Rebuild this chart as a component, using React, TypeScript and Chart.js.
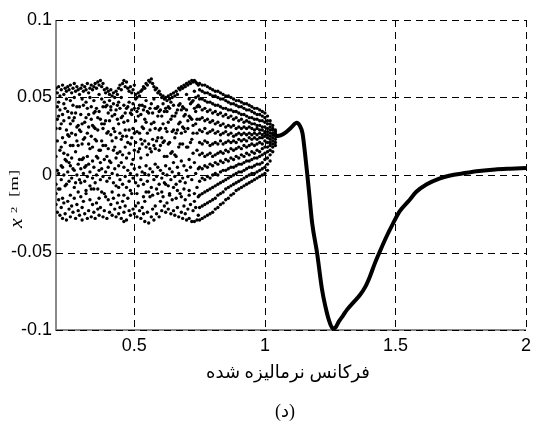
import React, { useEffect, useRef } from 'react';
import { Chart, registerables } from 'chart.js';

Chart.register(...registerables);

const xTickValues = [0.5, 1, 1.5, 2];
const xTickLabels = ['0.5', '1', '1.5', '2'];
const yTickValues = [-0.1, -0.05, 0, 0.05, 0.1];
const yTickLabels = ['-0.1', '-0.05', '0', '0.05', '0.1'];
const xTitle = 'فرکانس نرمالیزه شده';
const caption = '(د)';

// Chaotic region (irregular), frequencies and x2 samples in mm
const chaosFreqsA = [
  0.200, 0.205, 0.210, 0.215, 0.220, 0.225, 0.230, 0.235, 0.240, 0.245,
  0.250, 0.255, 0.260, 0.265, 0.270, 0.275, 0.280, 0.285, 0.290, 0.295,
  0.300, 0.305, 0.310, 0.315, 0.320, 0.325, 0.330, 0.335, 0.340, 0.345,
  0.350, 0.355, 0.360, 0.365, 0.370, 0.375, 0.380, 0.385, 0.390, 0.395,
  0.400, 0.405, 0.410, 0.415, 0.420, 0.425, 0.430, 0.435, 0.440, 0.445,
  0.450, 0.455, 0.460, 0.465, 0.470, 0.475, 0.480, 0.485, 0.490, 0.495,
  0.500, 0.505, 0.510, 0.515, 0.520, 0.525, 0.530, 0.535, 0.540, 0.545,
  0.550, 0.555, 0.560, 0.565, 0.570, 0.575, 0.580, 0.585, 0.590, 0.595,
  0.600, 0.605, 0.610, 0.615, 0.620, 0.625, 0.630, 0.635, 0.640, 0.645,
  0.650, 0.655, 0.660, 0.665, 0.670, 0.675, 0.680, 0.685, 0.690, 0.695,
  0.700, 0.705, 0.710, 0.715, 0.720, 0.725, 0.730, 0.735, 0.740, 0.745,
];
const chaosValuesAMm = [
  [56, 12, -6, -19], [53, 36, 3, -24], [57, 47, 1, -16], [51, 30, -9, -26], [55, 18, -3, -21],
  [58, 39, 5, -28], [52, 46, 14, -18], [56, 21, -7, -25], [54, 49, 9, -29], [57, 26, 2, -17],
  [55, 37, -4, -22], [58, 48, 6, -13, -27], [53, 11, -2, -20], [56, 35, 19, -24], [59, 50, 3, -15],
  [54, 40, -5, -28], [57, 22, 0, -19], [55, 32, 7, -23], [52, 44, -3, -26], [56, 28, 4, -14],
  [58, 49, 10, -21, -29], [54, 23, 1, -17], [57, 34, -4, -25], [55, 47, 6, -12], [59, 12, -1, -28],
  [53, 39, 20, -23], [56, 50, 2, -16], [58, 36, -9, -27], [55, 18, -2, -19], [57, 48, 31, 5, -24],
  [59, 41, -5, -28], [56, 22, 0, -18], [60, 37, 11, -22], [58, 52, 3, -15, -26], [61, 16, -3, -21],
  [57, 49, 33, -11], [59, 19, -1, -27], [55, 47, 10, -23], [53, 35, 2, -14], [56, 45, -4, -28],
  [54, 28, 5, -16], [52, 48, -2, -24], [55, 42, 8, -19], [51, 22, 1, -26], [53, 46, -5, -15],
  [50, 39, 4, -22], [54, 11, -7, -27], [52, 36, 0, -18], [56, 47, 6, -13, -25], [58, 15, -3, -21],
  [55, 50, 23, -28], [59, 38, -6, -17], [61, 45, 5, -24, -30], [57, 18, -1, -20], [60, 43, -8, -29],
  [56, 21, 3, -15], [54, 47, -4, -23], [57, 40, 1, -26], [53, 24, 7, -12], [55, 46, -2, -22],
  [58, 27, 4, -25], [52, 49, -5, -20], [50, 41, 0, -27], [53, 15, -7, -18], [51, 45, 5, -23],
  [54, 39, -3, -28], [55, 20, 2, -21], [57, 42, -6, -25], [56, 36, 1, -17, -30], [59, 48, 6, -11],
  [58, 13, -4, -24], [61, 40, 0, -31], [60, 29, 4, -14], [62, 46, -8, -27], [59, 23, 2, -22],
  [57, 49, -3, -29], [55, 30, 7, -20], [56, 43, -1, -25], [53, 24, 5, -12], [54, 41, -6, -27],
  [52, 19, 3, -17], [50, 38, -2, -23], [51, 46, 1, -14], [49, 22, -5, -20], [50, 43, 6, -24],
  [48, 28, 0, -18], [51, 44, -7, -22], [49, 21, 4, -13], [52, 47, -3, -25], [50, 15, 2, -16],
  [53, 45, 8, -23], [51, 38, -1, -26], [54, 12, -6, -15], [52, 42, 5, -21], [56, 33, 1, -27],
  [55, 46, -4, -12], [57, 27, 9, -24], [56, 44, -2, -28], [58, 30, 6, -9, -20], [57, 39, -5, -25],
  [59, 52, 3, -29], [58, 18, -1, -22], [60, 49, 10, -13, -28], [59, 37, 5, -19], [61, 47, -3, -30],
  [60, 32, 14, -23], [61, 54, 8, -17, -30], [60, 41, 1, -21], [59, 27, 16, -8, -29], [58, 45, 4, -26],
];
// extra interior samples of the same columns
const chaosExtraAMm = [
  [30, -12], [22, 44], [38, -9], [16, 42], [33, 6],
  [24, -15], [35, 0], [43, 10], [29, -6], [41, 13],
  [25, 8], [19, 33], [40, 27], [45, 4], [37, -8],
  [26, 15], [44, 31], [19, -11], [29, 10], [39, -5],
  [33, 20], [45, 11], [24, 5], [37, -10], [43, 27],
  [31, 7], [17, -7], [25, 44], [32, 9], [40, -9],
  [23, 30], [43, 12], [29, -9], [41, 16], [36, 8],
  [22, 4], [44, 30], [33, -12], [44, 19], [27, 12],
  [40, 17], [35, 9], [26, 44], [38, -11], [30, 16],
  [18, 28], [42, 24], [45, 14], [33, -8], [43, 27],
  [37, 8], [25, 13], [34, -13], [40, 29], [25, 11],
  [44, 35], [29, 14], [20, -10], [42, 39], [30, 10],
  [43, 16], [35, 21], [28, -12], [38, 43], [27, 17],
  [23, 11], [45, 31], [30, -14], [22, 44], [34, 18],
  [41, 27], [20, -11], [43, 17], [33, 15], [40, -13],
  [34, 19], [43, 17], [22, -9], [38, 44], [29, 16],
  [42, 30], [24, -11], [33, 21], [41, 12], [30, -6],
  [41, 12], [34, 20], [43, -12], [36, 14], [38, 28],
  [29, -8], [24, 13], [40, 27], [29, -10], [45, 18],
  [34, 20], [42, -14], [31, 20], [43, 38], [28, -16],
  [42, 18], [35, 30], [38, -10], [46, 21], [36, 23],
  [48, 27], [43, -12], [50, 33], [44, 36], [51, -14],
];

// Converging bands just before the jump
const chaosFreqsB = [
  0.75, 0.76, 0.77, 0.78, 0.79, 0.80, 0.81, 0.82, 0.83, 0.84,
  0.85, 0.86, 0.87, 0.88, 0.89, 0.90, 0.91, 0.92, 0.93, 0.94,
  0.95, 0.96, 0.97, 0.98, 0.99, 1.00, 1.01, 1.02, 1.03, 1.04,
];
const chaosValuesBMm = [
  [59, 55, 49, 44, 36, 29, 21, 13, 5, -4, -13, -21, -29],
  [58, 54, 49, 42, 37, 28, 20, 14, 4, -2, -12, -20, -28],
  [58, 53, 48, 43, 35, 30, 22, 12, 6, -3, -11, -19, -27],
  [57, 53, 47, 41, 36, 27, 21, 13, 5, -1, -10, -18, -26],
  [56, 52, 47, 42, 34, 28, 19, 14, 7, -2, -9, -17, -25],
  [55, 51, 46, 40, 35, 29, 20, 12, 6, 0, -8, -16, -24],
  [54, 51, 45, 41, 33, 27, 21, 13, 8, 1, -7, -15, -22],
  [54, 50, 45, 39, 34, 28, 20, 14, 7, 0, -6, -13, -21],
  [53, 49, 44, 40, 32, 26, 22, 15, 9, 2, -5, -12, -19],
  [52, 49, 43, 38, 33, 27, 20, 14, 8, 3, -4, -11, -18],
  [51, 48, 43, 39, 31, 28, 21, 16, 10, 3, -3, -9, -16],
  [51, 47, 42, 37, 32, 26, 22, 15, 9, 4, -2, -8, -15],
  [50, 46, 42, 38, 31, 27, 21, 17, 11, 5, -1, -7, -13],
  [49, 46, 41, 36, 32, 25, 22, 16, 10, 5, 0, -6, -12],
  [48, 45, 41, 37, 30, 26, 21, 17, 12, 6, 1, -5, -10],
  [48, 44, 40, 35, 31, 27, 23, 18, 11, 7, 2, -4, -9],
  [47, 44, 39, 36, 30, 26, 22, 17, 13, 7, 2, -3, -8],
  [46, 43, 39, 34, 31, 27, 23, 19, 12, 8, 3, -2, -7],
  [46, 42, 38, 35, 30, 26, 22, 18, 14, 9, 4, -1, -6],
  [45, 42, 37, 34, 31, 27, 24, 19, 13, 9, 5, 0, -5],
  [44, 41, 37, 33, 30, 26, 23, 20, 15, 10, 5, 1, -4],
  [43, 40, 36, 33, 29, 27, 24, 19, 14, 11, 6, 1, -3],
  [43, 39, 36, 32, 30, 26, 23, 20, 16, 11, 7, 2, -2],
  [42, 39, 35, 32, 29, 27, 24, 21, 15, 12, 7, 3, -1],
  [41, 38, 35, 31, 29, 26, 24, 20, 17, 13, 8, 4, 0],
  [40, 37, 34, 31, 28, 27, 25, 22, 18, 14, 10, 5, 1],
  [38, 35, 33, 30, 28, 26, 24, 21, 18, 15, 11, 7, 3],
  [35, 33, 31, 29, 27, 25, 23, 21, 19, 16, 13, 9],
  [32, 30, 29, 27, 26, 24, 22, 20, 18, 15],
  [29, 28, 27, 26, 25, 23, 21, 19],
];

// Periodic branch
const curveFreqs = [
  1.04, 1.06, 1.08, 1.10, 1.122, 1.133, 1.144, 1.153, 1.162, 1.172,
  1.181, 1.20, 1.219, 1.232, 1.245, 1.261, 1.272, 1.283, 1.30, 1.314,
  1.34, 1.364, 1.385, 1.402, 1.42, 1.44, 1.465, 1.491, 1.516, 1.554,
  1.579, 1.62, 1.668, 1.71, 1.756, 1.82, 1.882, 1.94, 2.0,
];
const curveValuesMm = [
  25, 25.5, 27.5, 30.5, 33.7, 32, 27, 15, 1, -16,
  -31, -50.5, -74, -85, -93.5, -99.2, -98, -94.6, -90.5, -87,
  -82, -77.4, -72, -65.6, -57.5, -49.5, -40, -31.2, -23.5, -16.1,
  -11, -6, -2.3, -0.3, 1.0, 2.6, 3.6, 4.1, 4.5,
];

const chaosPoints = [
  ...chaosFreqsA.flatMap((f, i) => chaosValuesAMm[i].map((v) => ({ x: f, y: v / 1000 }))),
  ...chaosFreqsA.flatMap((f, i) => chaosExtraAMm[i].map((v) => ({ x: f, y: v / 1000 }))),
  ...chaosFreqsB.flatMap((f, i) => chaosValuesBMm[i].map((v) => ({ x: f, y: v / 1000 }))),
];
const curvePoints = curveFreqs.map((f, i) => ({ x: f, y: curveValuesMm[i] / 1000 }));

const tickFont = { family: '"Liberation Sans", Arial, sans-serif', size: 18 };

function drawRotatedPiece(ctx: CanvasRenderingContext2D, text: string, font: string, u: number, v: number, sx: number) {
  ctx.save();
  ctx.translate(0, 230);
  ctx.rotate(-Math.PI / 2);
  ctx.translate(u, v);
  ctx.scale(sx, 1);
  ctx.font = font;
  ctx.textAlign = 'left';
  ctx.textBaseline = 'alphabetic';
  ctx.fillText(text, 0, 0);
  ctx.restore();
}

const framePlugin = {
  id: 'frame',
  beforeDatasetsDraw(chart: any) {
    const { ctx, chartArea, scales } = chart;
    const { left, right, top, bottom } = chartArea;
    const xs = scales.x;
    const ys = scales.y;
    ctx.save();
    ctx.strokeStyle = '#8a8a8a';
    ctx.lineWidth = 2;
    ctx.beginPath();
    ctx.moveTo(left, top);
    ctx.lineTo(left, bottom);
    ctx.lineTo(right, bottom);
    ctx.stroke();
    ctx.strokeStyle = '#000';
    ctx.lineWidth = 1;
    ctx.setLineDash([7, 5]);
    for (const v of xTickValues) {
      const px = Math.round(xs.getPixelForValue(v)) + 0.5;
      ctx.beginPath();
      ctx.moveTo(px, top);
      ctx.lineTo(px, bottom);
      ctx.stroke();
    }
    for (const v of yTickValues) {
      const py = Math.round(ys.getPixelForValue(v)) + 0.5;
      ctx.beginPath();
      ctx.moveTo(left, py);
      ctx.lineTo(right, py);
      ctx.stroke();
    }
    ctx.restore();
  },
  afterDraw(chart: any) {
    const { ctx } = chart;
    ctx.save();
    ctx.fillStyle = '#000';
    ctx.textAlign = 'center';
    ctx.textBaseline = 'middle';
    ctx.font = '18px "Liberation Serif", "DejaVu Sans", serif';
    ctx.fillText(xTitle, 288, 373);
    ctx.fillText(caption, 285, 412);
    drawRotatedPiece(ctx, 'x', 'italic 18px "Liberation Serif", serif', 2, 22, 1.2);
    drawRotatedPiece(ctx, '2', '9px "Liberation Serif", serif', 17, 17, 1.4);
    drawRotatedPiece(ctx, '[m]', '13px "Liberation Serif", serif', 33, 18, 1.45);
    ctx.restore();
  },
};

export default function App() {
  const canvasRef = useRef<HTMLCanvasElement | null>(null);

  useEffect(() => {
    const canvas = canvasRef.current;
    if (!canvas) return;
    const chart = new Chart(canvas, {
      type: 'scatter',
      data: {
        datasets: [
          {
            label: 'curve',
            data: curvePoints,
            showLine: true,
            borderColor: '#000',
            backgroundColor: '#000',
            borderWidth: 4,
            pointRadius: 0,
            cubicInterpolationMode: 'monotone',
          } as any,
          {
            label: 'chaos',
            data: chaosPoints,
            backgroundColor: '#000',
            borderWidth: 0,
            pointRadius: 1.7,
          },
        ],
      },
      options: {
        animation: false,
        responsive: false,
        devicePixelRatio: 1,
        layout: { padding: { top: 20, right: 5, left: 0, bottom: 0 } },
        plugins: { legend: { display: false }, tooltip: { enabled: false } },
        scales: {
          x: {
            type: 'linear',
            min: 0.2,
            max: 2,
            grid: { display: false, drawTicks: false },
            border: { display: false },
            afterBuildTicks: (s: any) => {
              s.ticks = xTickValues.map((v) => ({ value: v }));
            },
            afterFit: (s: any) => {
              s.height = 99;
            },
            ticks: {
              autoSkip: false,
              maxRotation: 0,
              padding: 5,
              color: '#000',
              font: tickFont,
              callback: (v: any) => {
                const i = xTickValues.indexOf(Number(v));
                return i >= 0 ? xTickLabels[i] : '';
              },
            },
          },
          y: {
            type: 'linear',
            min: -0.1,
            max: 0.1,
            grid: { display: false, drawTicks: false },
            border: { display: false },
            afterBuildTicks: (s: any) => {
              s.ticks = yTickValues.map((v) => ({ value: v }));
            },
            afterFit: (s: any) => {
              s.width = 56;
            },
            ticks: {
              autoSkip: false,
              padding: 4,
              color: '#000',
              font: tickFont,
              callback: (v: any) => {
                const i = yTickValues.indexOf(Number(v));
                return i >= 0 ? yTickLabels[i] : '';
              },
            },
          },
        },
      },
      plugins: [framePlugin],
    });
    return () => chart.destroy();
  }, []);

  return (
    <div style={{ position: 'absolute', left: 0, top: 0, width: 536, height: 429, background: '#fff' }}>
      <canvas ref={canvasRef} width={536} height={429} style={{ display: 'block', width: 536, height: 429 }} />
    </div>
  );
}
